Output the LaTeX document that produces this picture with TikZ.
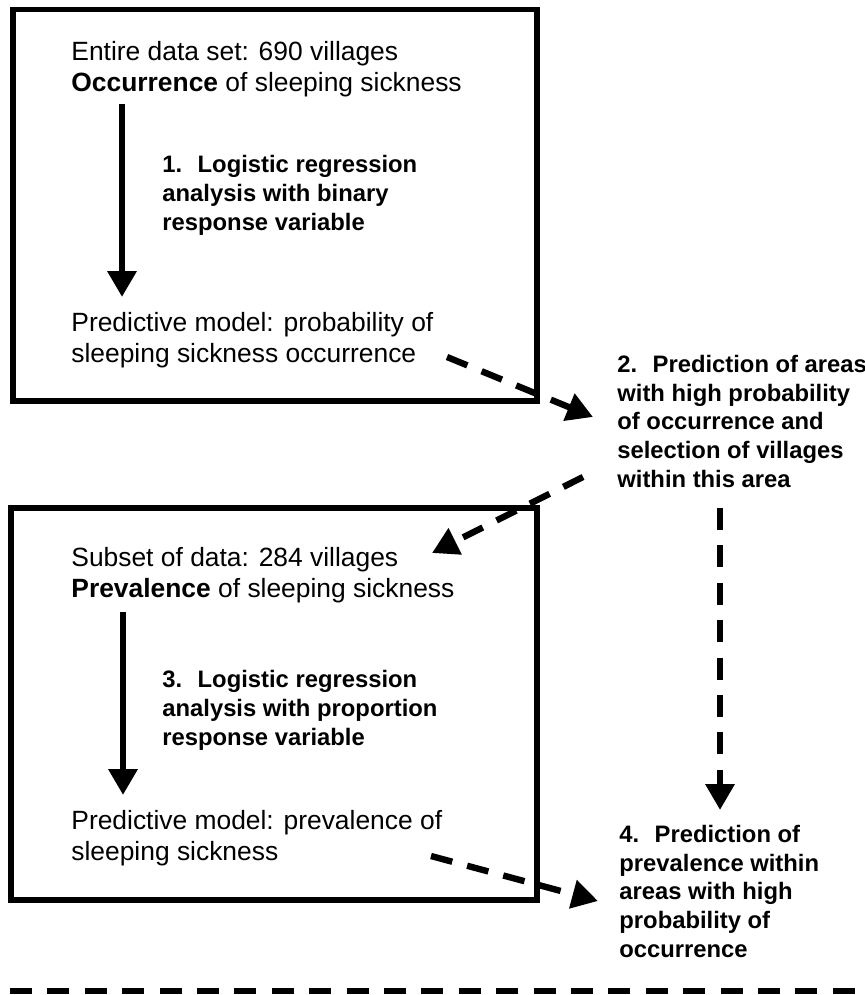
\documentclass[tikz,border=0pt]{standalone}
\usepackage{fontspec}
\setmainfont{Liberation Sans}
\usetikzlibrary{arrows.meta}

\begin{document}
\begin{tikzpicture}[x=0.5pt,y=-0.5pt,
		box/.style={line width=2.6pt},
		txt/.style={anchor=base west,inner sep=0pt,align=left,font=\fontsize{13.2}{15.5}\selectfont},
		steptxt/.style={anchor=base west,inner sep=0pt,align=left,font=\fontsize{11.9}{14.3}\selectfont\bfseries},
		flow/.style={line width=3.3pt,-{Triangle[length=13pt,width=14pt]}},
		dflow/.style={line width=3.2pt,dash pattern=on 11pt off 7.7pt,-{Triangle[length=13pt,width=14pt]}}]
			\useasboundingbox (0,0) rectangle (864,995);

			% upper box: occurrence
			\draw[box] (13,9.5) rectangle (537,401);
			\node[txt] (ent) at (71,91) {Entire data set: 690 villages\\\textbf{Occurrence} of sleeping sickness};
			\node[steptxt] (step1) at (162,230) {1.~ Logistic regression\\analysis with binary\\response variable};
			\node[txt] (pred1) at (71,362) {Predictive model: probability of\\sleeping sickness occurrence};
			\coordinate (a1) at (122,104);
			\coordinate (b1) at (122,297);
			\draw[flow] (a1) -- (b1);

			% step 2 on the right
			\node[steptxt] (step2) at (617,487) {2.~ Prediction of areas\\with high probability\\of occurrence and\\selection of villages\\within this area};
			\coordinate (c1) at (447,357);
			\coordinate (c2) at (593,417);
			\draw[dflow] (c1) -- (c2);

			% lower box: prevalence
			\draw[box] (11,508) rectangle (537,900);
			\node[txt] (sub) at (71,597) {Subset of data: 284 villages\\\textbf{Prevalence} of sleeping sickness};
			\node[steptxt] (step3) at (162,745) {3.~ Logistic regression\\analysis with proportion\\response variable};
			\node[txt] (pred2) at (71,860) {Predictive model: prevalence of\\sleeping sickness};
			\coordinate (a3) at (123,612);
			\coordinate (b3) at (123,795);
			\draw[flow] (a3) -- (b3);
			\coordinate (c3) at (583,477);
			\coordinate (c4) at (432,553);
			\draw[dflow] (c3) -- (c4);

			% step 4
			\node[steptxt] (step4) at (619,957) {4.~ Prediction of\\prevalence within\\areas with high\\probability of\\occurrence};
			\coordinate (c5) at (720,508);
			\coordinate (c6) at (720,810);
			\draw[dflow] (c5) -- (c6);
			\coordinate (c7) at (431,856);
			\coordinate (c8) at (598,901);
			\draw[dflow] (c7) -- (c8);

			\draw[line width=3.2pt,dash pattern=on 11pt off 7.7pt] (10,991) -- (856,991);
		\end{tikzpicture}
\end{document}
